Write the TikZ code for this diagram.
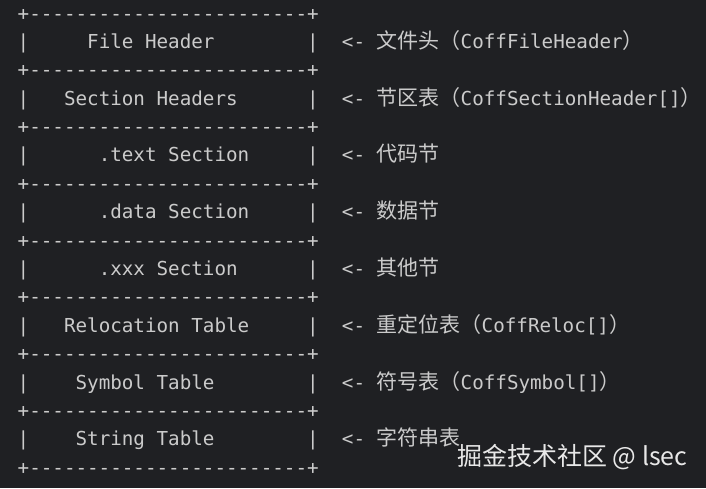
\documentclass[tikz,border=0pt]{standalone}
\usepackage{fontspec}
\setmonofont{DejaVu Sans Mono}
\newfontfamily\cjk{Noto Sans CJK SC}
\definecolor{bg}{HTML}{1F2023}
\definecolor{fg}{HTML}{CBCBCB}
\definecolor{wm}{HTML}{E8E8E8}
\tikzset{
  mono/.style={inner sep=0pt, anchor=base west, text=fg, font=\ttfamily\fontsize{19.23}{20}\selectfont},
  cjktext/.style={inner sep=0pt, anchor=base west, text=fg, font=\cjk\fontsize{21}{22}\selectfont},
  wmtext/.style={inner sep=0pt, anchor=base west, text=wm, font=\cjk\fontsize{25}{26}\selectfont}
}
\def\cw{11.58}
\def\xz{17.5}
\def\zx{376.5}
\newcommand\labrow[3]{%
  \pgfmathsetmacro\yb{20+28.39*#1}
  \node[mono] (lbar#1) at (\xz,\yb) {|};
  \node[mono] (lab#1) at ({\xz+#2*\cw},\yb) {#3};
  \node[mono] (rbar#1) at ({\xz+25*\cw},\yb) {|};
  \node[mono] (arr#1) at ({\xz+28*\cw},\yb) {<-};
}
\newcommand\zhonly[2]{%
  \pgfmathsetmacro\yb{20+28.39*#1}
  \node[cjktext] (zh#1) at (\zx,\yb) {#2};
}
\newcommand\zhen[5]{% row, nzh, zh, en, len
  \pgfmathsetmacro\yb{20+28.39*#1}
  \node[cjktext] (zh#1) at (\zx,\yb) {#3};
  \node[cjktext] (po#1) at ({\zx+21*#2},\yb) {（};
  \node[mono] (en#1) at ({\zx+21*(#2+1)},\yb) {#4};
  \node[cjktext] (pc#1) at ({\zx+21*(#2+1)+#5*\cw},\yb) {）};
}
\begin{document}
\begin{tikzpicture}[x=1pt,y=-1pt]
\fill[bg] (0,0) rectangle (706,488);
\useasboundingbox (0,0) rectangle (706,488);
\foreach \r in {0,...,8}{
  \pgfmathsetmacro\yb{20+56.78*\r}
  \node[mono] (border\r) at (\xz,\yb) {+------------------------+};
}
\labrow{1}{6}{File Header}
\labrow{3}{4}{Section Headers}
\labrow{5}{7}{.text Section}
\labrow{7}{7}{.data Section}
\labrow{9}{7}{.xxx Section}
\labrow{11}{4}{Relocation Table}
\labrow{13}{5}{Symbol Table}
\labrow{15}{5}{String Table}
\zhen{1}{3}{文件头}{CoffFileHeader}{14}
\zhen{3}{3}{节区表}{CoffSectionHeader[]}{19}
\zhonly{5}{代码节}
\zhonly{7}{数据节}
\zhonly{9}{其他节}
\zhen{11}{4}{重定位表}{CoffReloc[]}{11}
\zhen{13}{3}{符号表}{CoffSymbol[]}{12}
\zhonly{15}{字符串表}
\node[wmtext] (watermark) at (457,465.5) {掘金技术社区 @ lsec};
\end{tikzpicture}
\end{document}
